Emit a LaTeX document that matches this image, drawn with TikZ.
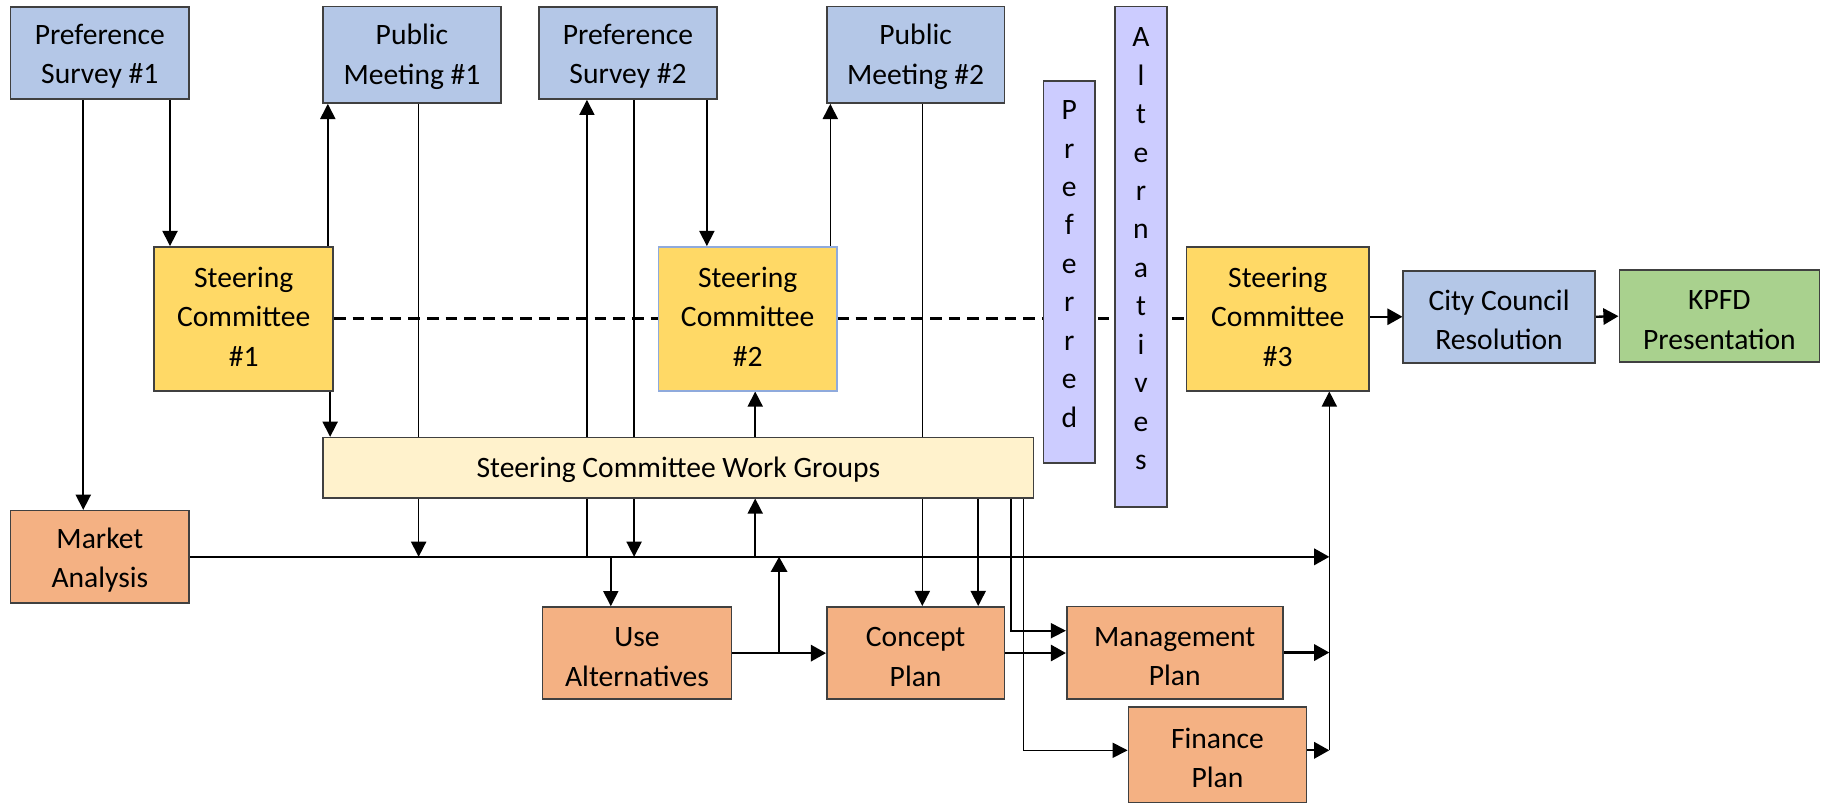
\documentclass[tikz,border=0pt]{standalone}
\usepackage{fontspec}
\setmainfont{Carlito}
\usetikzlibrary{arrows.meta,backgrounds}

\definecolor{boxline}{HTML}{404040}
\definecolor{publicblue}{HTML}{B4C7E7}
\definecolor{steeryellow}{HTML}{FFD966}
\definecolor{groupcream}{HTML}{FFF2CC}
\definecolor{planorange}{HTML}{F4B183}
\definecolor{kpfdgreen}{HTML}{A9D18E}
\definecolor{altlilac}{HTML}{CCCCFF}
\definecolor{sctwoline}{HTML}{8FAADC}

\begin{document}
\begin{tikzpicture}[x=0.5pt,y=-0.5pt,
  box/.style={draw=boxline,line width=0.7pt,align=center,inner sep=0pt,
    font=\fontsize{12.7}{17}\selectfont},
  lowtext/.style={text height=28.5pt},
  pubbox/.style={box,fill=publicblue},
  meetbox/.style={pubbox,text height=27.5pt,minimum width=76.25pt,minimum height=41.4pt},
  steerbox/.style={box,fill=steeryellow,minimum height=61.75pt,text depth=2pt},
  planbox/.style={box,fill=planorange,minimum height=39.65pt,lowtext},
  tallbox/.style={box,fill=altlilac,minimum width=22.25pt,text depth=7pt,
    font=\fontsize{12.7}{16.5}\selectfont},
  arr/.style={-{Triangle[length=6.5pt,width=6.5pt]},line width=0.7pt},
  arrthick/.style={-{Triangle[length=6.5pt,width=7pt]},line width=1pt},
  dashline/.style={line width=1.3pt,dash pattern=on 5pt off 3pt}]

\useasboundingbox (0,0) rectangle (1568,689.6);

% Top row
\node[pubbox,lowtext,minimum width=76.75pt,minimum height=39.65pt] (ps1) at (85.7,45.4) {Preference\\Survey \#1};
\node[meetbox] (pm1) at (353.75,47.1) {Public\\Meeting \#1};
\node[pubbox,lowtext,minimum width=76.25pt,minimum height=39.65pt] (ps2) at (539.25,45.4) {Preference\\Survey \#2};
\node[meetbox] (pm2) at (786.25,47.1) {Public\\Meeting \#2};

% Steering committees
\node[steerbox,minimum width=76.75pt] (sc1) at (209.25,273.75) {Steering\\Committee\\\#1};
\node[steerbox,minimum width=76.5pt,draw=sctwoline] (sc2) at (642,273.75) {Steering\\Committee\\\#2};
\node[steerbox,minimum width=78.25pt] (sc3) at (1097.25,273.75) {Steering\\Committee\\\#3};
\node[pubbox,lowtext,minimum width=82.25pt,minimum height=39.5pt] (ccr) at (1287.25,272) {City Council\\Resolution};
\node[box,lowtext,fill=kpfdgreen,minimum width=86pt,minimum height=39.5pt] (kpfd) at (1476.5,271.5) {KPFD\\Presentation};

% Vertical bars
\node[tallbox,minimum height=164pt] (pref) at (918.25,233.6) {P\\r\\e\\f\\e\\r\\r\\e\\d};
\node[tallbox,minimum height=214.85pt] (alt) at (979.75,220.55) {A\\l\\t\\e\\r\\n\\a\\t\\i\\v\\e\\s};

% Work groups
\node[box,fill=groupcream,minimum width=305pt,minimum height=25.8pt,text depth=-2pt] (wg) at (582.5,401.6) {Steering Committee Work Groups};

% Plans
\node[planbox,minimum width=76.75pt] (ma) at (85.75,478.15) {Market\\Analysis};
\node[planbox,minimum width=81pt] (ua) at (547,560.85) {Use\\Alternatives};
\node[planbox,minimum width=76.25pt] (cp) at (786.25,560.75) {Concept\\Plan};
\node[planbox,minimum width=92.75pt] (mp) at (1008.75,560.35) {Management\\Plan};
\node[planbox,minimum width=76.5pt,minimum height=41pt] (fp) at (1045.5,648) {Finance\\Plan};

% Line positions
\coordinate (xa) at (71.5,0);
\coordinate (xb) at (146,0);
\coordinate (xc) at (281.5,0);
\coordinate (xd) at (283.5,0);
\coordinate (xe) at (359.5,0);
\coordinate (xf) at (504,0);
\coordinate (xg) at (524.5,0);
\coordinate (xh) at (544.5,0);
\coordinate (xi) at (607,0);
\coordinate (xj) at (648.5,0);
\coordinate (xk) at (669,0);
\coordinate (xl) at (713,0);
\coordinate (xm) at (792,0);
\coordinate (xn) at (840,0);
\coordinate (xo) at (868,0);
\coordinate (xp) at (879,0);
\coordinate (xq) at (1141.5,0);
\coordinate (ymp) at (0,541.6);
\coordinate (yfp) at (0,644.3);

\begin{scope}[on background layer]
% Dashed link
\draw[dashline] (sc1.east) -- (sc3.west);

% Surveys and meetings
\draw[arr] (xa |- ps1.south) -- (xa |- ma.north);
\draw[arr] (xb |- ps1.south) -- (xb |- sc1.north);
\draw[arr] (xc |- sc1.north) -- (xc |- pm1.south);
\draw[arr] (xd |- sc1.south) -- (xd |- wg.north);
\draw[arr] (xe |- pm1.south) -- (xe |- ma.east);
\draw[arr] (xf |- ma.east) -- (xf |- ps2.south);
\draw[arr] (xh |- ps2.south) -- (xh |- ma.east);
\draw[arr] (xi |- ps2.south) -- (xi |- sc2.north);
\draw[arr] (xl |- sc2.north) -- (xl |- pm2.south);
\draw[arr] (xj |- wg.north) -- (xj |- sc2.south);
\draw[arr] (xj |- ma.east) -- (xj |- wg.south);
\draw[arr] (xm |- pm2.south) -- (xm |- cp.north);

% Work groups to plans
\draw[arr] (xn |- wg.south) -- (xn |- cp.north);
\draw[arr] (xo |- wg.south) |- (mp.west |- ymp);
\draw[arr] (xp |- wg.south) |- (fp.west |- yfp);

% Main line
\draw[arrthick] (ma.east) -- (xq |- ma.east);
\draw[arr] (xg |- ma.east) -- (xg |- ua.north);
\draw[arrthick] (ua.east) -- (cp.west |- ua.east);
\draw[arrthick] (xk |- ua.east) -- (xk |- ma.east);
\draw[arrthick] (cp.east) -- (mp.west |- cp.east);
\draw[arrthick] (mp.east) -- (xq |- mp.east);
\draw[arrthick] (fp.east |- yfp) -- (xq |- yfp);
\draw[arr] (xq |- yfp) -- (xq |- sc3.south);

% Approval
\draw[arrthick] (sc3.east |- ccr.west) -- (ccr.west);
\draw[arrthick] (ccr.east) -- (kpfd.west);
\end{scope}

\end{tikzpicture}
\end{document}
